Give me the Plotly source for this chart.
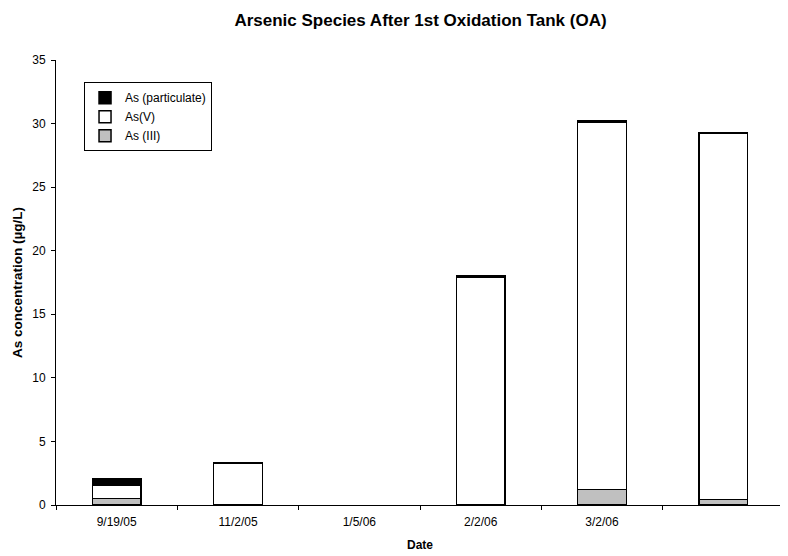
"""Arsenic species after the 1st oxidation tank, stacked bars."""

import plotly.graph_objects as go

dates = ["9/19/05", "11/2/05", "1/5/06", "2/2/06", "3/2/06", " "]
as_iii = [0.5, 0.05, None, 0.05, 1.2, 0.45]
as_v = [1.05, 3.25, None, 17.9, 28.9, 28.75]
as_part = [0.55, 0.03, None, 0.05, 0.1, 0.1]

line = dict(color="black", width=1.5)

fig = go.Figure()
fig.add_trace(go.Bar(x=dates, y=as_iii, name="As (III)",
                     marker=dict(color="#c0c0c0", line=line)))
fig.add_trace(go.Bar(x=dates, y=as_v, name="As(V)",
                     marker=dict(color="white", line=line)))
fig.add_trace(go.Bar(x=dates, y=as_part, name="As (particulate)",
                     marker=dict(color="black", line=line)))

fig.update_layout(
    barmode="stack",
    bargap=0.6,
    width=788,
    height=556,
    paper_bgcolor="white",
    plot_bgcolor="white",
    font=dict(family="Liberation Sans, Arial", size=12, color="black"),
    margin=dict(l=48, r=12, t=52, b=59, autoexpand=False),
    title=dict(text="<b>Arsenic Species After 1st Oxidation Tank (OA)</b>",
               x=0.5235, xanchor="center", y=0.978, yanchor="middle",
               font=dict(size=17)),
    legend=dict(x=0.0385, y=0.95, xanchor="left", yanchor="top",
                traceorder="reversed", bgcolor="white",
                bordercolor="black", borderwidth=1,
                font=dict(size=12), itemwidth=30, tracegroupgap=0),
    showlegend=True,
)
fig.update_xaxes(
    title=dict(text="<b>Date</b>", font=dict(size=12), standoff=12),
    automargin=False,
    showline=True, linecolor="black", linewidth=1,
    ticks="outside", tickson="boundaries", ticklen=4, tickcolor="black",
    ticklabelstandoff=6,
    showgrid=False,
)
fig.update_yaxes(
    title=dict(text="<b>As concentration (µg/L)</b>", font=dict(size=13.5),
               standoff=6),
    automargin=False,
    range=[0, 35], dtick=5,
    showline=True, linecolor="black", linewidth=1,
    ticks="outside", ticklen=4, tickcolor="black",
    ticklabelstandoff=3,
    showgrid=False, zeroline=False,
)

fig.write_html("out.html")
